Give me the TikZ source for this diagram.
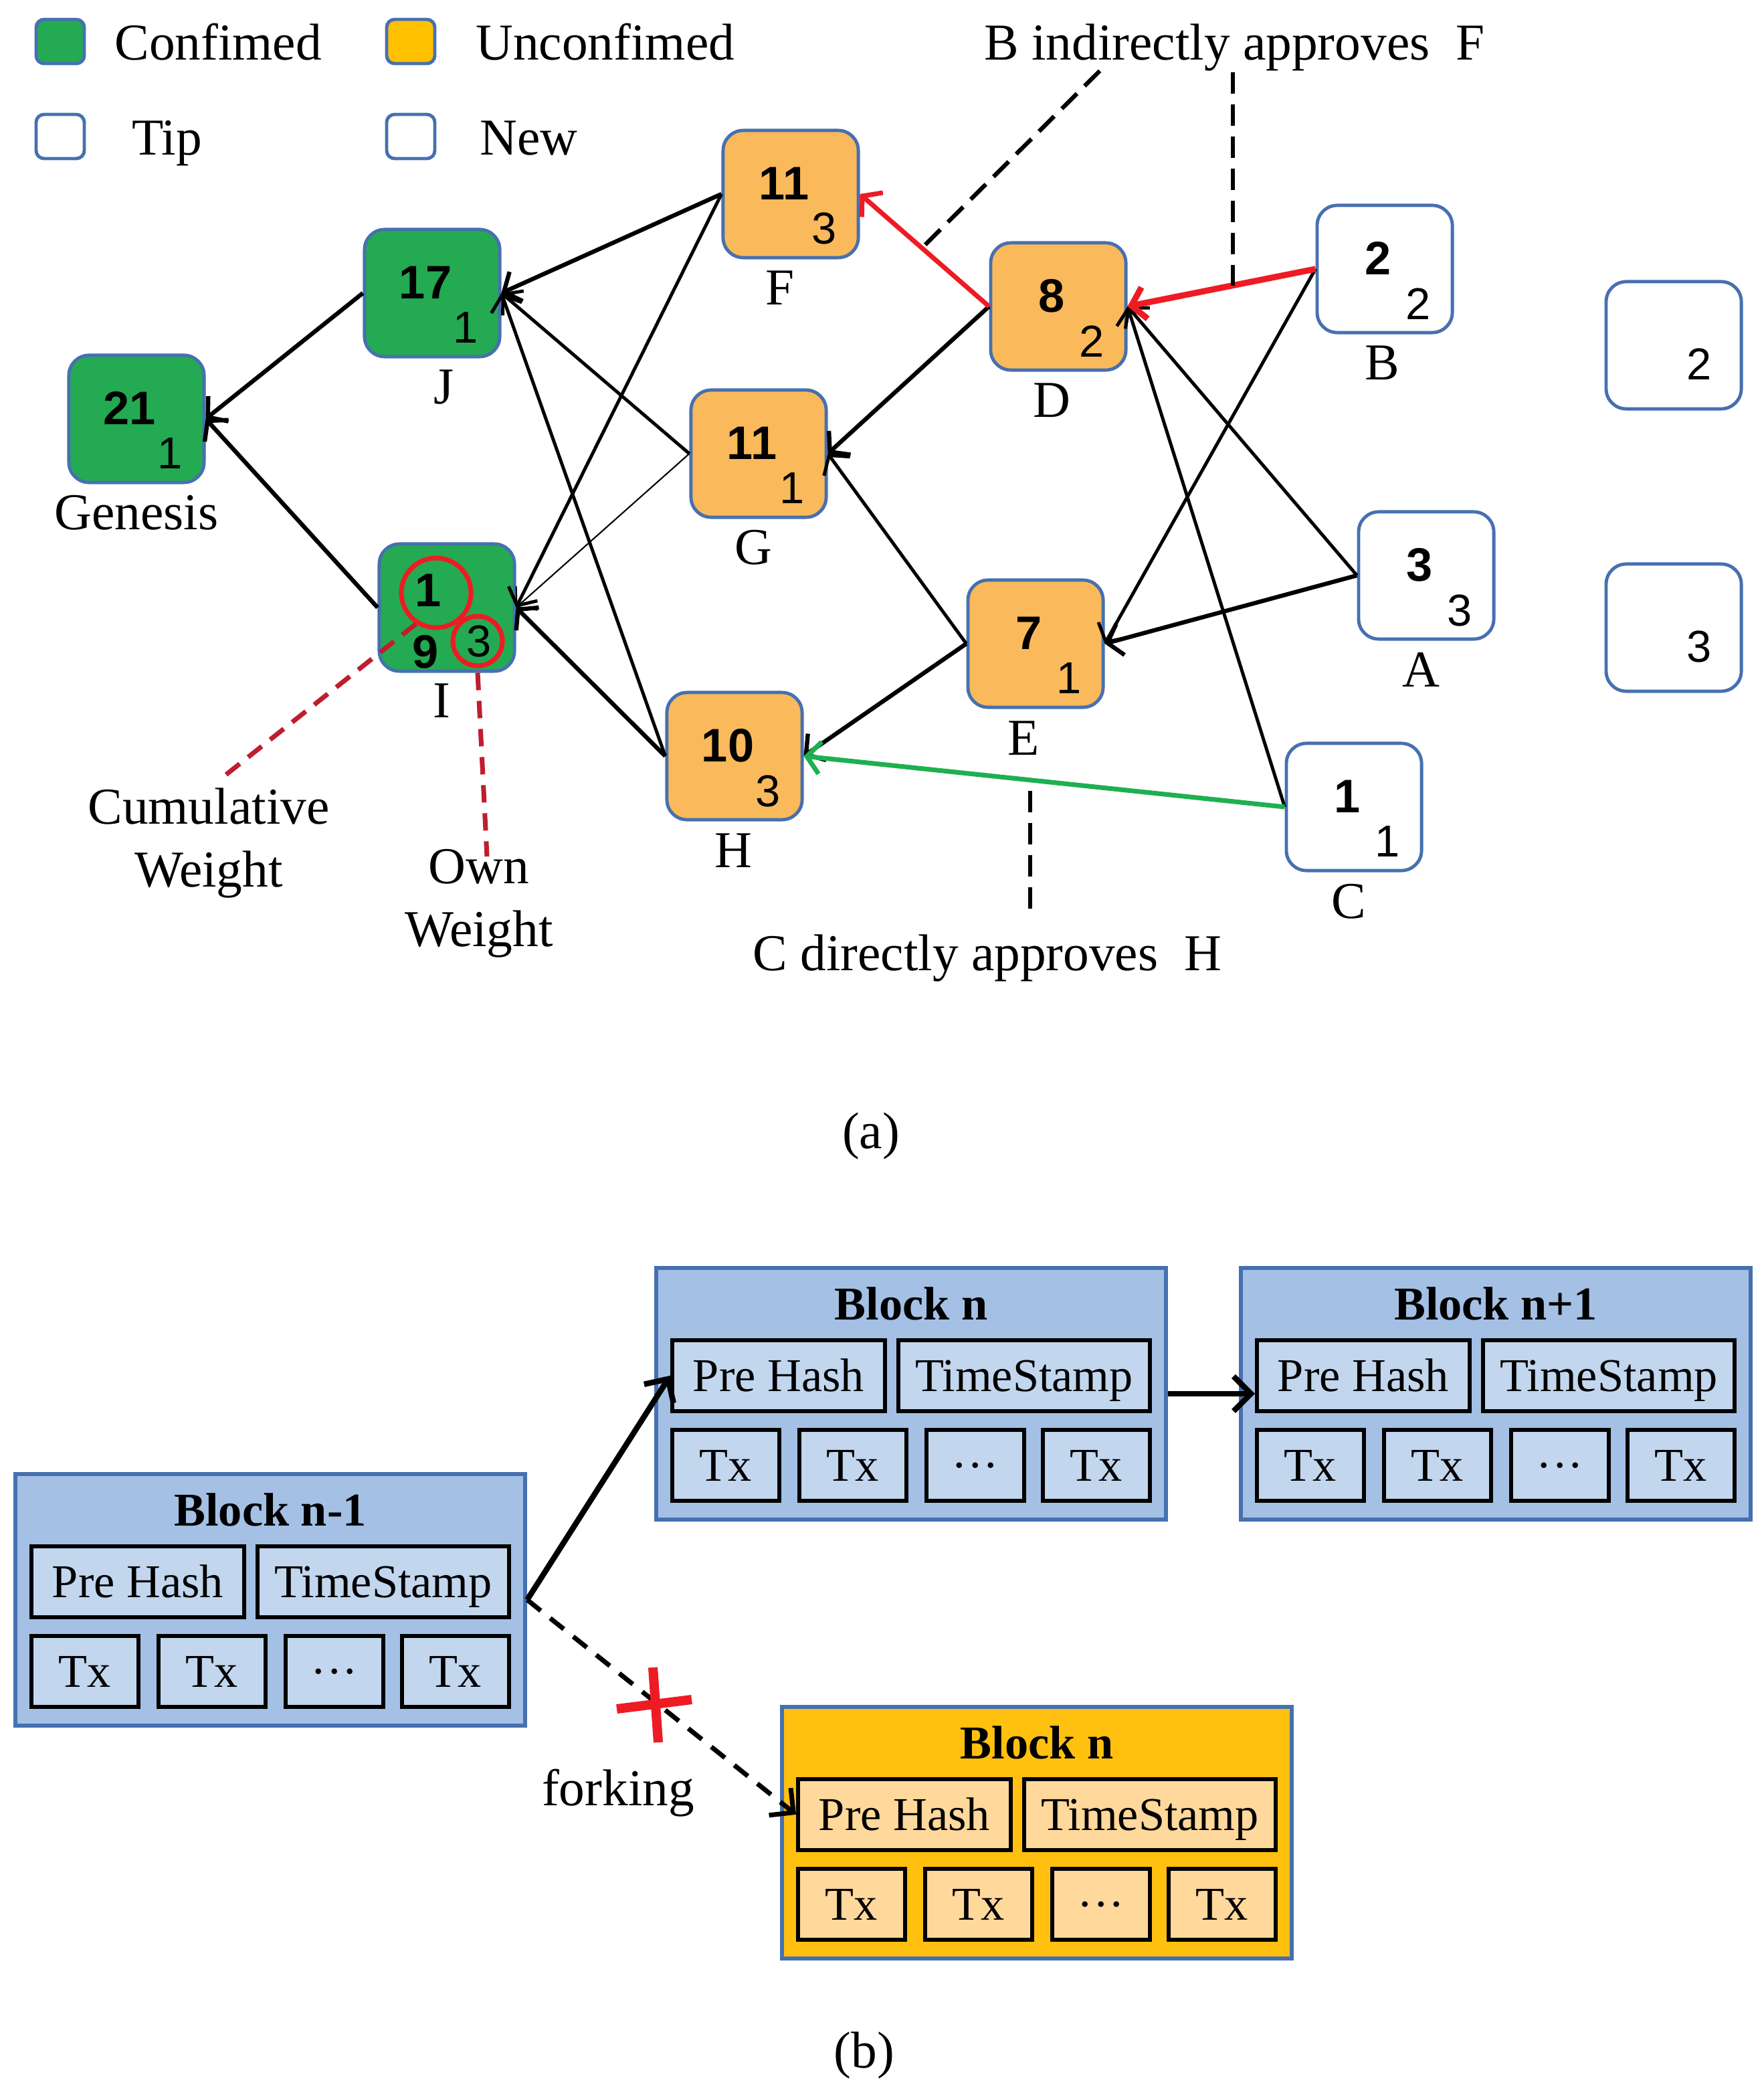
\documentclass[tikz,border=0pt]{standalone}
\usepackage{fontspec}
\setmainfont{Liberation Serif}
\newfontfamily\numfont{Liberation Sans}
\usepackage{tikz}
\usetikzlibrary{calc,arrows.meta}
\definecolor{boxblue}{RGB}{70,112,176}
\definecolor{confgreen}{RGB}{36,170,82}
\definecolor{unconfgold}{RGB}{255,192,0}
\definecolor{nodeorange}{RGB}{250,185,90}
\definecolor{approvered}{RGB}{237,28,36}
\definecolor{approvegreen}{RGB}{30,176,80}
\definecolor{darkred}{RGB}{190,30,45}
\definecolor{blockblue}{RGB}{164,192,228}
\definecolor{fieldblue}{RGB}{194,214,238}
\definecolor{blockorange}{RGB}{255,192,16}
\definecolor{fieldorange}{RGB}{255,216,155}
\tikzstyle{txbox}=[rounded corners=0.15cm,draw=boxblue,line width=0.7pt,minimum width=1.01cm,minimum height=0.95cm,inner sep=0pt]
\tikzstyle{txconf}=[txbox,fill=confgreen]
\tikzstyle{txunconf}=[txbox,fill=nodeorange]
\tikzstyle{txtip}=[txbox,fill=white]
\tikzstyle{legbox}=[rounded corners=0.06cm,draw=boxblue,line width=0.7pt,minimum width=0.36cm,minimum height=0.33cm,inner sep=0pt]
\tikzstyle{note}=[font=\fontsize{11}{13.3}\selectfont,inner sep=0pt]
\tikzstyle{bignum}=[font=\numfont\bfseries\fontsize{10}{12}\selectfont,inner sep=0pt]
\tikzstyle{smallnum}=[font=\numfont\fontsize{9.5}{11}\selectfont,inner sep=0pt]
\tikzstyle{ring}=[circle,draw=approvered,line width=1pt,inner sep=0pt]
\tikzstyle{appr}=[->,line width=0.9pt]
\tikzstyle{apprthin}=[->,line width=0.7pt]
\tikzstyle{hint}=[dash pattern=on 1.6mm off 0.8mm,line width=0.9pt]
\tikzstyle{hintred}=[dash pattern=on 1.3mm off 0.8mm,line width=1pt,draw=darkred]
\tikzstyle{blockbox}=[draw=boxblue,line width=0.8pt,minimum width=3.81cm,minimum height=1.88cm,inner sep=0pt,anchor=north west]
\tikzstyle{blocktitle}=[font=\bfseries\fontsize{10}{12}\selectfont,inner sep=0pt]
\tikzstyle{field}=[draw=black,line width=0.8pt,minimum height=0.53cm,inner sep=0pt,anchor=north west,text height=6.8pt,text depth=0pt,font=\fontsize{10}{12}\selectfont]
\tikzstyle{chain}=[-{Straight Barb[length=1.3mm,width=2.6mm]},line width=1.2pt]

% name, x, y (top left), title, outer fill, inner fill
\newcommand{\chainblock}[6]{%
  \node[blockbox,fill=#5] (#1) at (#2,#3) {};
  \node[blocktitle] at ($(#1.north)+(0,28)$) {#4};
  \node[field,fill=#6,minimum width=1.59cm] (#1hash) at ($(#1.north west)+(12,54)$) {Pre Hash};
  \node[field,fill=#6,minimum width=1.88cm] (#1time) at ($(#1.north west)+(181,54)$) {TimeStamp};
  \foreach \dx/\bw/\tx [count=\k] in {12/0.80/Tx,107/0.80/Tx,202/0.73/\textperiodcentered\textperiodcentered\textperiodcentered,289/0.80/Tx}
    \node[field,fill=#6,minimum width=\bw cm] (#1tx\k) at ($(#1.north west)+(\dx,121)$) {\tx};
}

\begin{document}
\begin{tikzpicture}[>={Straight Barb[length=1mm,width=2.4mm]},x=0.01cm,y=-0.01cm]

  \useasboundingbox (0,0) rectangle (1318,1567);

  % legend
  \node[legbox,fill=confgreen] (lconf) at (45,31) {};
  \node[note,anchor=base west] at (85,45) {Confimed};
  \node[legbox,fill=unconfgold] (lunconf) at (307,31) {};
  \node[note,anchor=base west] at (355,45) {Unconfimed};
  \node[legbox,fill=white] (ltip) at (45,102) {};
  \node[note,anchor=base west] at (98,116) {Tip};
  \node[legbox,fill=white] (lnew) at (307,102) {};
  \node[note,anchor=base west] at (358,116) {New};

  % transactions
  \foreach \nm/\x/\y/\st/\cum/\own/\lab/\dl in {gen/102/313/txconf/21/1/Genesis/0,
      J/323/219/txconf/17/1/J/9, F/591/145/txunconf/11/3/F/-8,
      G/567/339/txunconf/11/1/G/-4, H/549/565/txunconf/10/3/H/-1,
      D/791/229/txunconf/8/2/D/-5, E/774/481/txunconf/7/1/E/-9,
      B/1035/201/txtip/2/2/B/-2, A/1066/430/txtip/3/3/A/-4,
      C/1012/603/txtip/1/1/C/-4} {
    \node[\st] (\nm) at (\x,\y) {};
    \node[bignum] at ($(\nm)+(-5,-8)$) {\cum};
    \node[smallnum] at ($(\nm)+(25,26)$) {\own};
    \node[note,anchor=base] at ($(\nm)+(\dl,83)$) {\lab};
  }

  \node[txconf] (I) at (334,454) {};
  \node[bignum] at (320,441) {1};
  \node[bignum] at (318,487) {9};
  \node[smallnum] at (358,479) {3};
  \node[ring,minimum size=0.52cm] (cw) at (326,443) {};
  \node[ring,minimum size=0.37cm] (ow) at (357,479) {};
  \node[note,anchor=base] at (330,536) {I};

  \node[txtip] (new2) at (1251,258) {};
  \node[smallnum] at ($(new2)+(19,14)$) {2};
  \node[txtip] (new3) at (1251,469) {};
  \node[smallnum] at ($(new3)+(19,14)$) {3};

  % approvals
  \foreach \a/\b in {J/gen,I/gen,F/J,H/I,A/E,E/H,D/G}
    \draw[appr] (\a.west) -- (\b.east);
  \foreach \a/\b in {G/J,H/J,F/I,E/G,A/D,B/E,C/D}
    \draw[apprthin] (\a.west) -- (\b.east);
  \draw[->,line width=0.3pt] (G.west) -- (I.east);
  \draw[->,line width=1pt,approvered] (D.west) -- (F.east);
  \draw[->,line width=1.3pt,approvered] (B.west) -- (D.east);
  \draw[->,line width=1pt,approvegreen] (C.west) -- (H.east);

  % notes
  \node[note,anchor=base west] (bnote) at (735,45) {B indirectly approves~~F};
  \coordinate (bn) at (822,53);
  \coordinate (bd) at ($(B.west)!0.44!(D.east)$);
  \coordinate (df) at ($(D.west)!0.52!(F.east)$);
  \draw[hint] (bn) -- (df);
  \draw[hint] (bnote.south -| bd) -- (bd);

  \node[note,anchor=base west] (cnote) at (562,725) {C directly approves~~H};
  \coordinate (ch) at (770,591);
  \coordinate (chend) at (770,684);
  \draw[hint] (ch) -- (chend);

  \node[note,align=center] (cumlab) at (156,630) {Cumulative\\Weight};
  \coordinate (cumend) at (165,582);
  \draw[hintred] (cw.237) -- (cumend);
  \node[note,align=center] (ownlab) at (358,675) {Own\\Weight};
  \coordinate (ownend) at (364,640);
  \draw[hintred] (I.south -| ow) -- (ownend);

  \node[note] at (651,849) {(a)};

  % chain
  \chainblock{bprev}{10}{1100}{Block n-1}{blockblue}{fieldblue}
  \chainblock{bn}{489}{946}{Block n}{blockblue}{fieldblue}
  \chainblock{bnext}{926}{946}{Block n+1}{blockblue}{fieldblue}
  \chainblock{bfork}{583}{1274}{Block n}{blockorange}{fieldorange}

  \draw[chain] (bprev.east) -- (bnhash.west);
  \draw[chain] (bn.east) -- (bn.east -| bnexthash.west);
  \draw[chain,line width=1pt,dash pattern=on 1.3mm off 0.9mm] (bprev.east) -- (bforkhash.west);

  \draw[approvered,line width=2pt] (488,1246) -- (492,1302);
  \draw[approvered,line width=2pt] (461,1277) -- (517,1270);
  \node[note] at (462,1340) {forking};

  \node[note] at (646,1536) {(b)};

\end{tikzpicture}
\end{document}
